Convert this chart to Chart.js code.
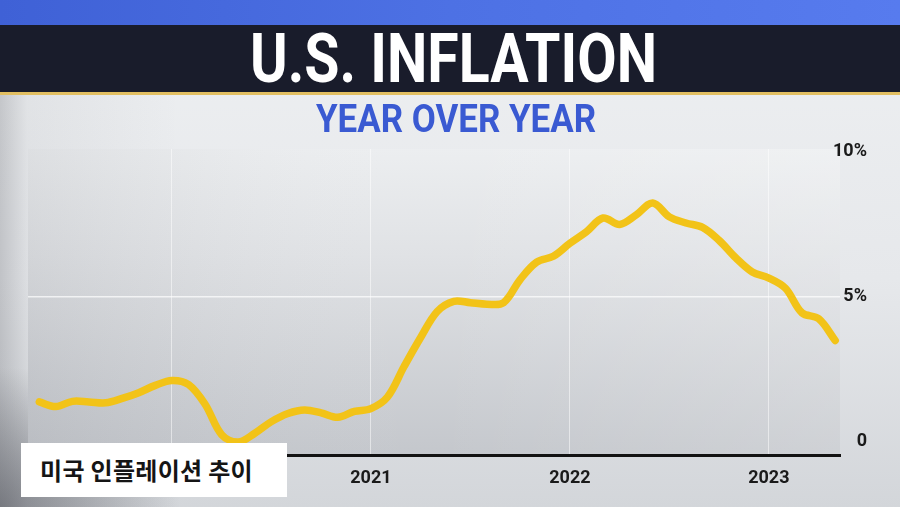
<!DOCTYPE html>
<html>
<head>
<meta charset="utf-8">
<script src="https://cdn.jsdelivr.net/npm/chart.js@4.4.0/dist/chart.umd.min.js"></script>
<style>
  html, body { margin: 0; padding: 0; }
  body {
    width: 900px; height: 507px; overflow: hidden; position: relative;
    background:
      radial-gradient(ellipse 180px 140px at 0px 507px, rgba(70,72,80,0.55), rgba(70,72,80,0)),
      linear-gradient(90deg, rgba(60,62,70,0.22) 0%, rgba(60,62,70,0.06) 3%, rgba(60,62,70,0) 20%),
      linear-gradient(180deg, #eef0f2 0%, #e6e8eb 55%, #d3d6da 100%);
    font-family: Roboto, sans-serif;
  }
  #wrap { position: absolute; left: 0; top: 0; width: 900px; height: 507px; }
  .band-blue { position: absolute; left: 0; top: 0; width: 900px; height: 25px;
    background: linear-gradient(90deg, #3f61d6, #4d71e4 50%, #577bee); }
  .band-dark { position: absolute; left: 0; top: 25px; width: 900px; height: 67px;
    background: #191c2b; border-bottom: 3px solid #e2bf62; }
  .fit { position: absolute; white-space: nowrap; font-weight: bold; transform-origin: 0 50%; }
  #title { color: #fff; font-size: 68px; line-height: 68px; top: 25px; }
  #subtitle { color: #3a5ad2; font-size: 38px; line-height: 38px; top: 100px; }
  #caption { position: absolute; left: 21px; top: 443px; width: 266px; height: 54px;
    background: #fff; box-sizing: border-box; padding-left: 19px;
    font-family: "Noto Sans CJK KR", sans-serif; font-size: 24px; line-height: 54px;
    color: #151515; letter-spacing: 0.3px; font-weight: 700; }
</style>
</head>
<body>
<div id="wrap"><canvas id="chart"></canvas></div>
<div class="band-blue"></div>
<div class="band-dark"></div>
<div id="title" class="fit">U.S. INFLATION</div>
<div id="subtitle" class="fit">YEAR OVER YEAR</div>
<div id="caption">미국 인플레이션 추이</div>
<script>
// 월별 데이터 (전년 대비 %)
var months = [
  '2019-05','2019-06','2019-07','2019-08','2019-09','2019-10','2019-11','2019-12',
  '2020-01','2020-02','2020-03','2020-04','2020-05','2020-06','2020-07','2020-08',
  '2020-09','2020-10','2020-11','2020-12','2021-01','2021-02','2021-03','2021-04',
  '2021-05','2021-06','2021-07','2021-08','2021-09','2021-10','2021-11','2021-12',
  '2022-01','2022-02','2022-03','2022-04','2022-05','2022-06','2022-07','2022-08',
  '2022-09','2022-10','2022-11','2022-12','2023-01','2023-02','2023-03','2023-04',
  '2023-05'
];
var inflation = [
  1.38, 1.22, 1.40, 1.38, 1.35, 1.50, 1.70, 1.95,
  2.12, 1.98, 1.30, 0.25, 0.00, 0.30, 0.70, 0.98,
  1.10, 1.00, 0.85, 1.05, 1.15, 1.55, 2.60, 3.60,
  4.50, 4.85, 4.80, 4.75, 4.80, 5.60, 6.20, 6.40,
  6.85, 7.25, 7.72, 7.50, 7.83, 8.24, 7.76, 7.55,
  7.40, 6.95, 6.35, 5.86, 5.65, 5.30, 4.45, 4.25,
  3.50
];
var yearTicks = ['2020', '2021', '2022', '2023'];
var yTicks = [0, 5, 10];

// 2020년 1월 기준 개월 수
function monthIndex(s) {
  var p = s.split('-');
  return (parseInt(p[0], 10) - 2020) * 12 + parseInt(p[1], 10) - 1;
}

var points = months.map(function(m, i) {
  return { x: monthIndex(m), y: inflation[i] };
});

// 제목 폭 맞추기
function fitText(id, left, width) {
  var el = document.getElementById(id);
  var w = el.getBoundingClientRect().width;
  el.style.left = left + 'px';
  el.style.transform = 'scaleX(' + (width / w) + ')';
}
fitText('title', 250, 407);
fitText('subtitle', 316, 280);

var plotBg = {
  id: 'plotBg',
  beforeDraw: function(chart) {
    var a = chart.chartArea, ctx = chart.ctx;
    var g = ctx.createLinearGradient(0, a.top, 0, a.bottom);
    g.addColorStop(0, '#eceef0');
    g.addColorStop(0.35, '#e0e2e5');
    g.addColorStop(1, '#c4c7cc');
    ctx.save();
    ctx.fillStyle = g;
    ctx.fillRect(a.left, a.top, a.right - a.left, a.bottom - a.top);
    var h = ctx.createLinearGradient(a.left, 0, a.right, 0);
    h.addColorStop(0, 'rgba(90,92,100,0.10)');
    h.addColorStop(0.5, 'rgba(255,255,255,0)');
    h.addColorStop(1, 'rgba(255,255,255,0.18)');
    ctx.fillStyle = h;
    ctx.fillRect(a.left, a.top, a.right - a.left, a.bottom - a.top);
    ctx.restore();
  }
};

var tickFont = { family: 'Roboto, sans-serif', size: 18, weight: 'bold' };

new Chart(document.getElementById('chart'), {
  type: 'line',
  data: {
    datasets: [{
      data: points,
      borderColor: '#f2c318',
      borderWidth: 7.5,
      pointRadius: 0,
      tension: 0.35,
      borderCapStyle: 'round',
      borderJoinStyle: 'round'
    }]
  },
  options: {
    responsive: true,
    maintainAspectRatio: false,
    animation: false,
    layout: { padding: { left: 28, right: 33, top: 149, bottom: 12 } },
    plugins: { legend: { display: false }, tooltip: { enabled: false } },
    scales: {
      x: {
        type: 'linear',
        min: -8.68,
        max: 40.29,
        afterBuildTicks: function(scale) {
          scale.ticks = yearTicks.map(function(y) { return { value: (parseInt(y, 10) - 2020) * 12 }; });
        },
        afterFit: function(scale) { scale.height = 40; },
        ticks: {
          padding: 13,
          color: '#1a1a1a',
          font: tickFont,
          callback: function(v) { return String(2020 + v / 12); }
        },
        grid: { color: 'rgba(255,255,255,0.5)', lineWidth: 1, drawTicks: false },
        border: { display: true, color: '#121212', width: 3 }
      },
      y: {
        position: 'right',
        min: -0.45,
        max: 10.1,
        afterBuildTicks: function(scale) {
          scale.ticks = yTicks.map(function(v) { return { value: v }; });
        },
        afterFit: function(scale) { scale.width = 27; },
        ticks: {
          mirror: true,
          crossAlign: 'near',
          padding: 27,
          color: '#1a1a1a',
          font: tickFont,
          callback: function(v) { return v === 0 ? '0' : v + '%'; }
        },
        grid: {
          drawTicks: false,
          lineWidth: 1.5,
          color: function(c) { return c.tick && c.tick.value === 5 ? 'rgba(255,255,255,0.7)' : 'rgba(0,0,0,0)'; }
        },
        border: { display: false }
      }
    }
  },
  plugins: [plotBg]
});
</script>
</body>
</html>
